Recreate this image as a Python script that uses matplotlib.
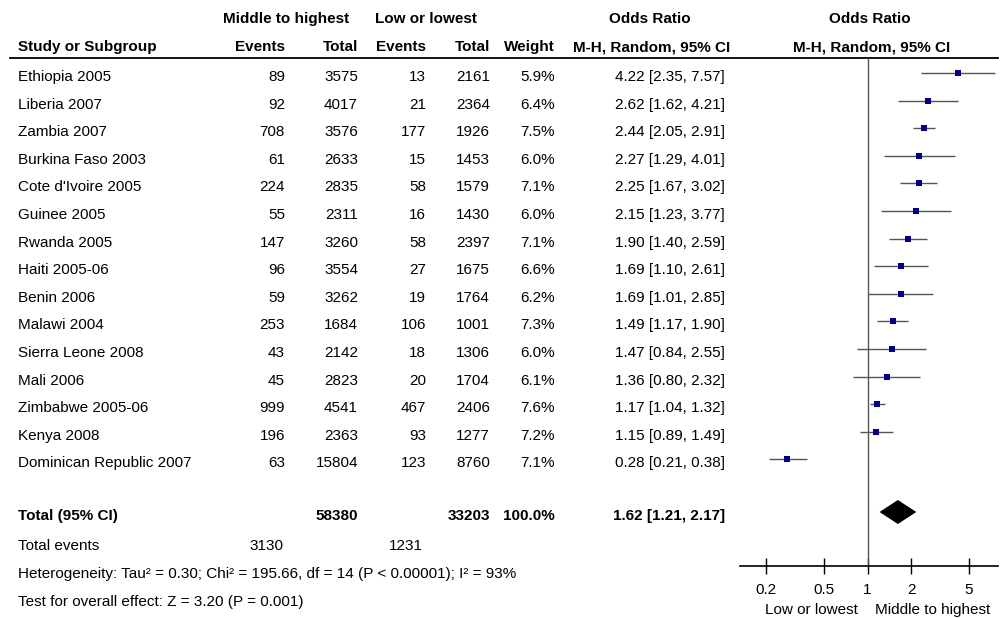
import matplotlib
matplotlib.use("Agg")
import matplotlib.pyplot as plt

plt.rcParams['font.family'] = ['Liberation Sans', 'DejaVu Sans']

# study data
studies = ["Ethiopia 2005", "Liberia 2007", "Zambia 2007", "Burkina Faso 2003",
           "Cote d'Ivoire 2005", "Guinee 2005", "Rwanda 2005", "Haiti 2005-06",
           "Benin 2006", "Malawi 2004", "Sierra Leone 2008", "Mali 2006",
           "Zimbabwe 2005-06", "Kenya 2008", "Dominican Republic 2007"]
ev_high = [89, 92, 708, 61, 224, 55, 147, 96, 59, 253, 43, 45, 999, 196, 63]
tot_high = [3575, 4017, 3576, 2633, 2835, 2311, 3260, 3554, 3262, 1684, 2142, 2823, 4541, 2363, 15804]
ev_low = [13, 21, 177, 15, 58, 16, 58, 27, 19, 106, 18, 20, 467, 93, 123]
tot_low = [2161, 2364, 1926, 1453, 1579, 1430, 2397, 1675, 1764, 1001, 1306, 1704, 2406, 1277, 8760]
weight = [5.9, 6.4, 7.5, 6.0, 7.1, 6.0, 7.1, 6.6, 6.2, 7.3, 6.0, 6.1, 7.6, 7.2, 7.1]
odds = [4.22, 2.62, 2.44, 2.27, 2.25, 2.15, 1.90, 1.69, 1.69, 1.49, 1.47, 1.36, 1.17, 1.15, 0.28]
lo = [2.35, 1.62, 2.05, 1.29, 1.67, 1.23, 1.40, 1.10, 1.01, 1.17, 0.84, 0.80, 1.04, 0.89, 0.21]
hi = [7.57, 4.21, 2.91, 4.01, 3.02, 3.77, 2.59, 2.61, 2.85, 1.90, 2.55, 2.32, 1.32, 1.49, 0.38]

total_high = 58380
total_low = 33203
events_high = 3130
events_low = 1231
total_or, total_lo, total_hi = 1.62, 1.21, 2.17
ticks = [0.2, 0.5, 1, 2, 5]
tick_labels = ["0.2", "0.5", "1", "2", "5"]

W, H = 1002, 618
fig = plt.figure(figsize=(W / 100, H / 100), dpi=100)

# text layer in pixel coords
bg = fig.add_axes([0, 0, 1, 1])
bg.set_xlim(0, W)
bg.set_ylim(H, 0)
bg.axis('off')

fs = 11
row0 = 77
step = 27.6
total_y = 516

def txt(x, y, s, ha='left', bold=False):
    bg.text(x, y, s, ha=ha, va='center', fontsize=fs,
            fontweight='bold' if bold else 'normal')

# headers
txt(286, 19, "Middle to highest", 'center', True)
txt(426, 19, "Low or lowest", 'center', True)
txt(650, 19, "Odds Ratio", 'center', True)
txt(870, 19, "Odds Ratio", 'center', True)
txt(18, 47, "Study or Subgroup", bold=True)
txt(285, 47, "Events", 'right', True)
txt(358, 47, "Total", 'right', True)
txt(426, 47, "Events", 'right', True)
txt(490, 47, "Total", 'right', True)
txt(555, 47, "Weight", 'right', True)
txt(652, 47, "M-H, Random, 95% CI", 'center', True)
txt(872, 47, "M-H, Random, 95% CI", 'center', True)
bg.plot([10, 998], [58, 58], color='black', lw=1.3)

for i, name in enumerate(studies):
    y = row0 + step * i
    txt(18, y, name)
    txt(285, y, str(ev_high[i]), 'right')
    txt(358, y, str(tot_high[i]), 'right')
    txt(426, y, str(ev_low[i]), 'right')
    txt(490, y, str(tot_low[i]), 'right')
    txt(555, y, "%.1f%%" % weight[i], 'right')
    txt(725, y, "%.2f [%.2f, %.2f]" % (odds[i], lo[i], hi[i]), 'right')

txt(18, total_y, "Total (95% CI)", bold=True)
txt(358, total_y, str(total_high), 'right', True)
txt(490, total_y, str(total_low), 'right', True)
txt(555, total_y, "100.0%", 'right', True)
txt(725, total_y, "%.2f [%.2f, %.2f]" % (total_or, total_lo, total_hi), 'right', True)

txt(18, 546, "Total events")
txt(283, 546, str(events_high), 'right')
txt(423, 546, str(events_low), 'right')
txt(18, 574, "Heterogeneity: Tau\u00b2 = 0.30; Chi\u00b2 = 195.66, df = 14 (P < 0.00001); I\u00b2 = 93%")
txt(18, 602, "Test for overall effect: Z = 3.20 (P = 0.001)")

txt(858, 610, "Low or lowest", 'right')
txt(875, 610, "Middle to highest", 'left')

# forest panel
x0, x1 = 740, 998
y_top, y_axis = 58, 566
ax = fig.add_axes([x0 / W, 1 - y_axis / H, (x1 - x0) / W, (y_axis - y_top) / H])
ax.patch.set_alpha(0)
ax.set_xscale('log')
ax.set_xlim(10 ** ((x0 - 867.5) / 145), 10 ** ((x1 - 867.5) / 145))
ax.set_ylim(y_axis, y_top)

ax.axvline(1, color='#555555', lw=1)
for i in range(len(studies)):
    y = row0 + step * i - 4
    ax.plot([lo[i], hi[i]], [y, y], color='#555555', lw=1, solid_capstyle='butt')
    ax.plot(odds[i], y, marker='s', color='#000080', ms=3.2 + weight[i] * 0.15,
            markeredgewidth=0)

dy = 12
ty = total_y - 4
ax.fill([total_lo, total_or, total_hi, total_or], [ty, ty - dy, ty, ty + dy],
        color='black', lw=0)

for s in ['top', 'left', 'right']:
    ax.spines[s].set_visible(False)
ax.spines['bottom'].set_linewidth(1.2)
ax.set_yticks([])
ax.set_xticks(ticks)
ax.set_xticklabels(tick_labels)
ax.minorticks_off()
ax.tick_params(axis='x', direction='inout', length=12, width=1, labelsize=fs, pad=6)

fig.savefig("out.png", dpi=100)
